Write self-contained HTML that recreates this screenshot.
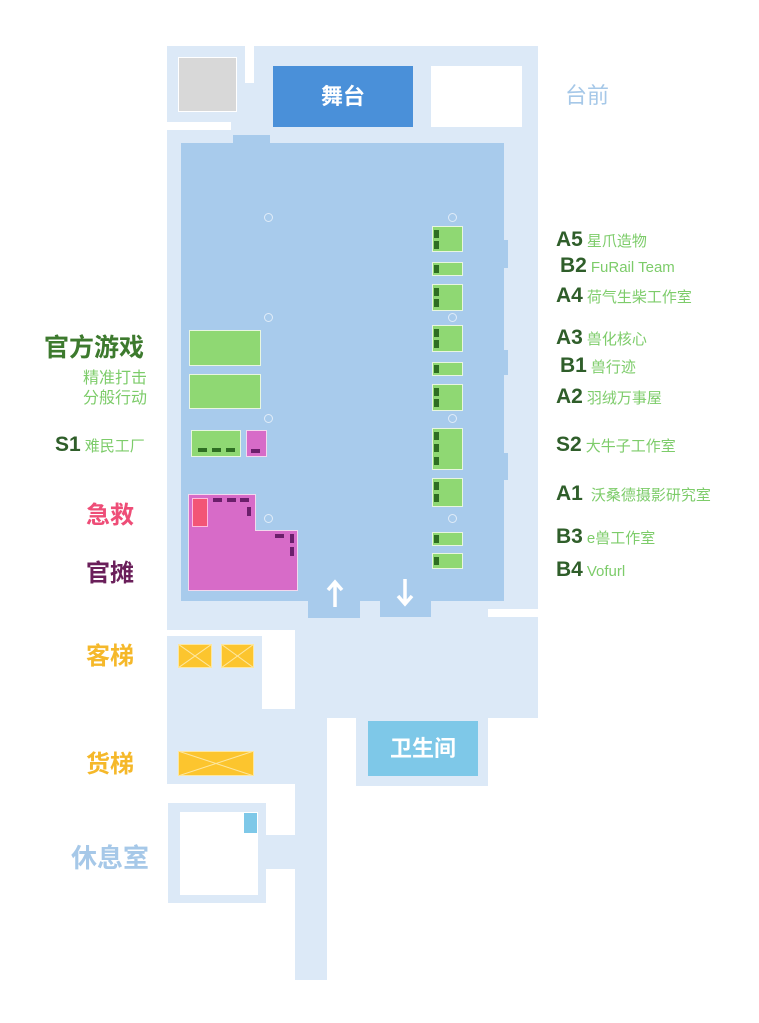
<!DOCTYPE html><html><head><meta charset="utf-8"><style>
body{margin:0;width:759px;height:1023px;background:#fff;position:relative;overflow:hidden;font-family:"Liberation Sans","Noto Sans CJK SC",sans-serif}
div{position:absolute;box-sizing:border-box}
.l{background:#dce9f7}.w{background:#fff}.h{background:#a8cbec}
.g{background:#8fd873;border:1px solid #e8f6e0}
.p{background:#d76bc8;border:1px solid #f3d8ee}
.m{background:#2e6e22;width:5px;height:8px}
.mh{background:#2e6e22;width:9px;height:4px}
.pm{background:#6b1f6b;width:9px;height:4px}
.pv{background:#6b1f6b;width:4px;height:9px}
.c{width:9px;height:9px;border:1px solid #e0ecf8;border-radius:50%}
.y{background:#fcc52e;border:1px solid #fde7a0;overflow:hidden}
.t{white-space:nowrap;line-height:1}
.code{color:#2f5e2a;font-size:21px;font-weight:bold}
.nm{color:#7dcc6a;font-size:15px;margin-left:4px;font-weight:normal}
</style></head><body>
<div class="l" style="left:167px;top:46px;width:371px;height:584px"></div>
<div class="w" style="left:245px;top:40px;width:9px;height:43px"></div>
<div style="left:178px;top:57px;width:59px;height:55px;background:#d8d8d8;border:1px solid #fff"></div>
<div class="w" style="left:160px;top:122px;width:71px;height:8px"></div>
<div style="left:273px;top:66px;width:140px;height:61px;background:#4a90d9;color:#fff;font-size:22px;font-weight:bold;text-align:center;line-height:61px">舞台</div>
<div class="w" style="left:431px;top:66px;width:91px;height:61px"></div>
<div class="h" style="left:233px;top:135px;width:37px;height:10px"></div>
<div class="h" style="left:181px;top:143px;width:323px;height:458px"></div>
<div class="h" style="left:503px;top:240px;width:5px;height:28px"></div>
<div class="h" style="left:503px;top:350px;width:5px;height:25px"></div>
<div class="h" style="left:503px;top:453px;width:5px;height:27px"></div>
<div class="h" style="left:308px;top:598px;width:52px;height:20px"></div>
<div class="h" style="left:380px;top:598px;width:51px;height:19px"></div>
<svg width="759" height="1023" style="position:absolute;left:0;top:0">
<path d="M335 607V583M328 590L335 582L342 590" stroke="#fff" stroke-width="3.5" fill="none"/>
<path d="M405 579V603M398 596L405 604L412 596" stroke="#fff" stroke-width="3.5" fill="none"/>
</svg>
<div class="w" style="left:488px;top:609px;width:50px;height:8px"></div>
<div class="w" style="left:160px;top:630px;width:135px;height:6px"></div>
<div class="l" style="left:326px;top:620px;width:212px;height:98px"></div>
<div class="l" style="left:167px;top:636px;width:95px;height:148px"></div>
<div class="l" style="left:262px;top:709px;width:33px;height:75px"></div>
<div class="l" style="left:295px;top:620px;width:32px;height:360px"></div>
<div class="l" style="left:356px;top:717px;width:132px;height:69px"></div>
<div style="left:368px;top:721px;width:110px;height:55px;background:#7ec8e8;color:#fff;font-size:22px;font-weight:bold;text-align:center;line-height:55px">卫生间</div>
<div class="l" style="left:168px;top:803px;width:98px;height:100px"></div>
<div class="w" style="left:180px;top:812px;width:78px;height:83px"></div>
<div style="left:244px;top:813px;width:13px;height:20px;background:#7ec8e8"></div>
<div class="l" style="left:266px;top:835px;width:29px;height:34px"></div>
<div class="y" style="left:178px;top:644px;width:34px;height:24px"><svg width="34" height="24" style="position:absolute;left:-1px;top:-1px"><path d="M0 0L34 24M34 0L0 24" stroke="#fde7a0"/></svg></div>
<div class="y" style="left:221px;top:644px;width:33px;height:24px"><svg width="33" height="24" style="position:absolute;left:-1px;top:-1px"><path d="M0 0L33 24M33 0L0 24" stroke="#fde7a0"/></svg></div>
<div class="y" style="left:178px;top:751px;width:76px;height:25px"><svg width="76" height="25" style="position:absolute;left:-1px;top:-1px"><path d="M0 0L76 25M76 0L0 25" stroke="#fde7a0"/></svg></div>
<div class="c" style="left:264px;top:213px"></div><div class="c" style="left:448px;top:213px"></div>
<div class="c" style="left:264px;top:313px"></div><div class="c" style="left:448px;top:313px"></div>
<div class="c" style="left:264px;top:414px"></div><div class="c" style="left:448px;top:414px"></div>
<div class="c" style="left:264px;top:514px"></div><div class="c" style="left:448px;top:514px"></div>
<div class="g" style="left:189px;top:330px;width:72px;height:36px"></div>
<div class="g" style="left:189px;top:374px;width:72px;height:35px"></div>
<div class="g" style="left:191px;top:430px;width:50px;height:27px"><div class="mh" style="left:6px;top:17px"></div><div class="mh" style="left:20px;top:17px"></div><div class="mh" style="left:34px;top:17px"></div></div>
<div class="p" style="left:246px;top:430px;width:21px;height:27px"><div class="pm" style="left:4px;top:18px"></div></div>
<div class="p" style="left:188px;top:494px;width:68px;height:97px;border-right:none"></div>
<div class="p" style="left:188px;top:530px;width:110px;height:61px;border-top:none"></div>
<div style="left:255px;top:494px;width:1px;height:37px;background:#f3d8ee"></div>
<div style="left:256px;top:530px;width:42px;height:1px;background:#f3d8ee"></div>
<div style="left:192px;top:498px;width:16px;height:29px;background:#f25575;border:1px solid #fbd"></div>
<div class="pm" style="left:213px;top:498px"></div><div class="pm" style="left:227px;top:498px"></div><div class="pm" style="left:240px;top:498px"></div>
<div class="pv" style="left:247px;top:507px"></div>
<div class="pm" style="left:275px;top:534px"></div><div class="pv" style="left:290px;top:534px"></div><div class="pv" style="left:290px;top:547px"></div>
<div class="g" style="left:432px;top:226px;width:31px;height:26px"><div class="m" style="left:1px;top:3px"></div><div class="m" style="left:1px;top:14px"></div></div>
<div class="g" style="left:432px;top:262px;width:31px;height:14px"><div class="m" style="left:1px;top:2px"></div></div>
<div class="g" style="left:432px;top:284px;width:31px;height:27px"><div class="m" style="left:1px;top:3px"></div><div class="m" style="left:1px;top:14px"></div></div>
<div class="g" style="left:432px;top:325px;width:31px;height:27px"><div class="m" style="left:1px;top:3px"></div><div class="m" style="left:1px;top:14px"></div></div>
<div class="g" style="left:432px;top:362px;width:31px;height:14px"><div class="m" style="left:1px;top:2px"></div></div>
<div class="g" style="left:432px;top:384px;width:31px;height:27px"><div class="m" style="left:1px;top:3px"></div><div class="m" style="left:1px;top:14px"></div></div>
<div class="g" style="left:432px;top:428px;width:31px;height:42px"><div class="m" style="left:1px;top:3px"></div><div class="m" style="left:1px;top:15px"></div><div class="m" style="left:1px;top:28px"></div></div>
<div class="g" style="left:432px;top:478px;width:31px;height:29px"><div class="m" style="left:1px;top:3px"></div><div class="m" style="left:1px;top:15px"></div></div>
<div class="g" style="left:432px;top:532px;width:31px;height:14px"><div class="m" style="left:1px;top:2px"></div></div>
<div class="g" style="left:432px;top:553px;width:31px;height:16px"><div class="m" style="left:1px;top:3px"></div></div>
<div class="t" style="left:565px;top:85px;color:#a6c8e8;font-size:22px">台前</div>
<div class="t code" style="left:556px;top:229px">A5<span class="nm">星爪造物</span></div>
<div class="t code" style="left:560px;top:255px">B2<span class="nm">FuRail Team</span></div>
<div class="t code" style="left:556px;top:285px">A4<span class="nm">荷气生柴工作室</span></div>
<div class="t code" style="left:556px;top:327px">A3<span class="nm">兽化核心</span></div>
<div class="t code" style="left:560px;top:355px">B1<span class="nm">兽行迹</span></div>
<div class="t code" style="left:556px;top:386px">A2<span class="nm">羽绒万事屋</span></div>
<div class="t code" style="left:556px;top:434px">S2<span class="nm">大牛子工作室</span></div>
<div class="t code" style="left:556px;top:483px">A1<span class="nm" style="margin-left:8px">沃桑德摄影研究室</span></div>
<div class="t code" style="left:556px;top:526px">B3<span class="nm">e兽工作室</span></div>
<div class="t code" style="left:556px;top:559px">B4<span class="nm">Vofurl</span></div>
<div class="t" style="left:44px;top:336px;color:#3d7a2e;font-size:25px;font-weight:bold">官方游戏</div>
<div class="t" style="left:83px;top:371px;color:#7dcc6a;font-size:16px">精准打击</div>
<div class="t" style="left:83px;top:391px;color:#7dcc6a;font-size:16px">分般行动</div>
<div class="t code" style="left:55px;top:434px">S1<span class="nm">难民工厂</span></div>
<div class="t" style="left:86px;top:504px;color:#ee4d77;font-size:24px;font-weight:bold">急救</div>
<div class="t" style="left:86px;top:562px;color:#6a1f5a;font-size:24px;font-weight:bold">官摊</div>
<div class="t" style="left:86px;top:645px;color:#f5b82a;font-size:24px;font-weight:bold">客梯</div>
<div class="t" style="left:86px;top:753px;color:#f5b82a;font-size:24px;font-weight:bold">货梯</div>
<div class="t" style="left:71px;top:845px;color:#a6c8e8;font-size:26px;font-weight:bold">休息室</div>
</body></html>
